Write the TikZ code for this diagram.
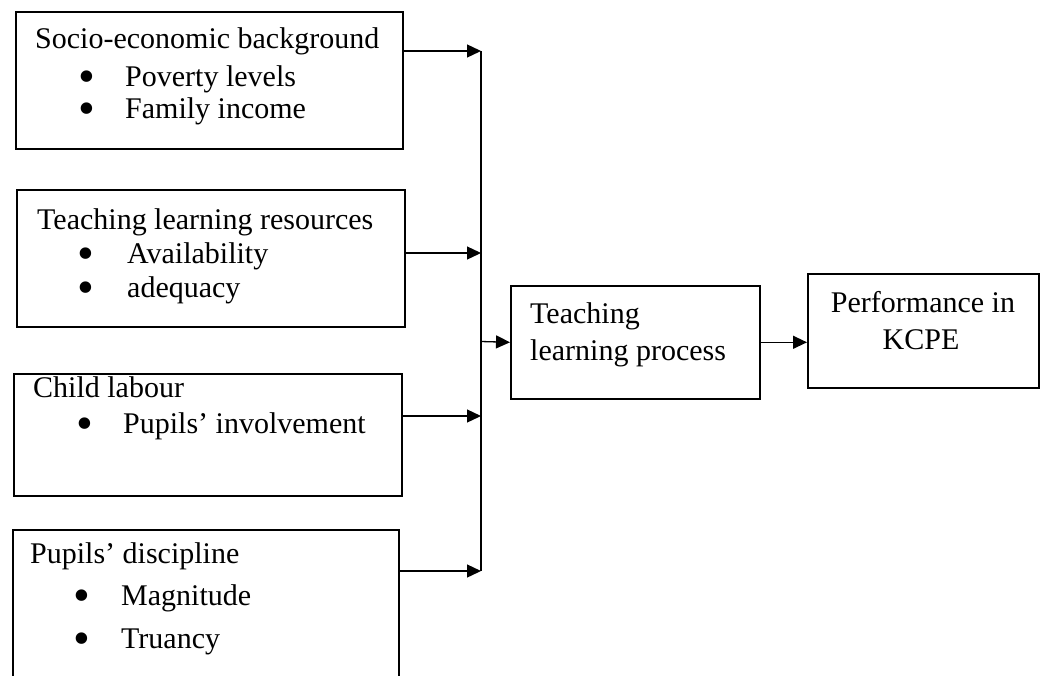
\documentclass[tikz,border=0pt]{standalone}
\usepackage{fontspec}
\setmainfont{Liberation Serif}
\usetikzlibrary{arrows.meta}
\begin{document}
\begin{tikzpicture}[x=1pt,y=-1pt,
  box/.style={draw, line width=1.6pt, inner sep=0pt, anchor=north west},
  txt/.style={anchor=base west, inner sep=0pt, font=\fontsize{30}{34}\selectfont},
  bul/.style={anchor=base west, inner sep=0pt, font=\fontsize{48}{48}\selectfont},
  ctxt/.style={anchor=base, inner sep=0pt, font=\fontsize{30}{34}\selectfont},
  arr/.style={line width=1.3pt, -{Triangle[length=14pt,width=13pt]}},
  bus/.style={line width=1.8pt}]
\useasboundingbox (0,0) rectangle (1041,675);
% boxes
\node[box, minimum width=387pt, minimum height=137pt] (b1) at (15,11) {};
\node[box, minimum width=388pt, minimum height=137pt] (b2) at (16,189) {};
\node[box, minimum width=388pt, minimum height=122pt] (b3) at (13,373) {};
\node[box, minimum width=386pt, minimum height=180pt] (b4) at (12,529) {};
\node[box, minimum width=249pt, minimum height=113pt] (tlp) at (510,285) {};
\node[box, minimum width=231pt, minimum height=114pt] (kcpe) at (807,273) {};
% texts box 1
\node[txt] (t1) at (35,48) {Socio-economic background};
\node[bul] (t1a) at (78,92) {\smash{•}};
\node[txt] (t1b) at (125,86) {Poverty levels};
\node[bul] (t1c) at (78,124) {\smash{•}};
\node[txt] (t1d) at (125,118) {Family income};
% box 2
\node[txt] (t2) at (37,229) {Teaching learning resources};
\node[bul] (t2a) at (77,269) {\smash{•}};
\node[txt] (t2b) at (127,263) {Availability};
\node[bul] (t2c) at (77,303) {\smash{•}};
\node[txt] (t2d) at (127,297) {adequacy};
% box 3
\node[txt] (t3) at (33,397) {Child labour};
\node[bul] (t3a) at (76,439) {\smash{•}};
\node[txt] (t3b) at (123,433) {Pupils’ involvement};
% box 4
\node[txt] (t4) at (30,563) {Pupils’ discipline};
\node[bul] (t4a) at (73,611) {\smash{•}};
\node[txt] (t4b) at (121,605) {Magnitude};
\node[bul] (t4c) at (73,654) {\smash{•}};
\node[txt] (t4d) at (121,648) {Truancy};
% center
\node[txt] (t5) at (530,323) {Teaching};
\node[txt] (t5b) at (530,360) {learning process};
% kcpe
\node[ctxt] (t6) at (923,312) {Performance in};
\node[ctxt] (t6b) at (921,349) {KCPE};
% bus
\coordinate (bt) at (481,51);
\coordinate (j2) at (481,253);
\coordinate (j3) at (481,416);
\coordinate (bb) at (481,571);
\coordinate (jc) at (481,341.5);
\draw[bus] (bt) -- (bb);
\draw[arr] (b1.east |- bt) -- (bt);
\draw[arr] (b2.east |- j2) -- (j2);
\draw[arr] (b3.east |- j3) -- (j3);
\draw[arr] (b4.east |- bb) -- (bb);
\draw[arr] (jc) -- (tlp.west);
\draw[arr] (tlp.east) -- (kcpe.west |- tlp.east);
\end{tikzpicture}
\end{document}
